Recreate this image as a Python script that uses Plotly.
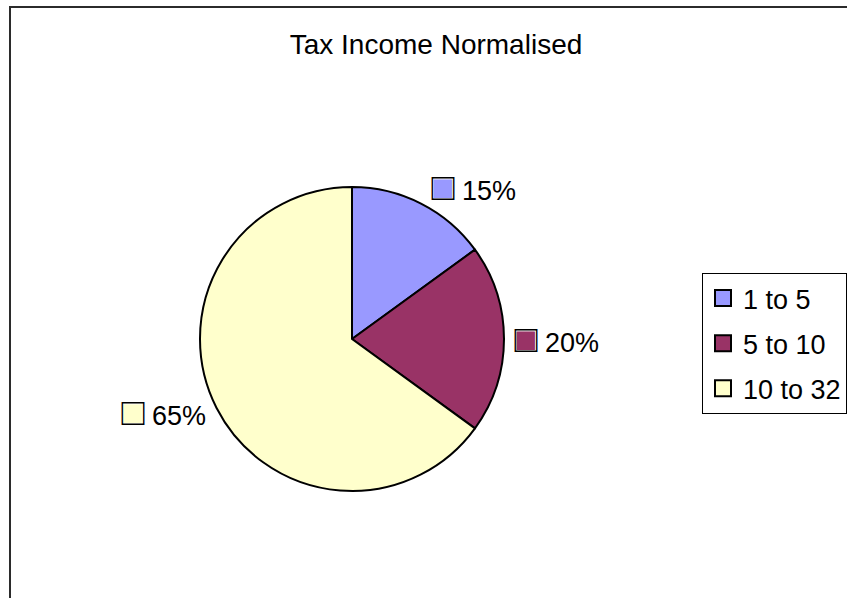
import plotly.graph_objects as go

# ---- data ----
categories = ["1 to 5", "5 to 10", "10 to 32"]
values = [15, 20, 65]
colors = ["#9999FF", "#993366", "#FFFFCC"]
title_text = "Tax Income Normalised"

W, H = 847, 598
FONT = "Liberation Sans, Arial, sans-serif"
FS = 27
SQ = 38

dom = dict(x=[200 / W, 504 / W], y=[1 - 491 / H, 1 - 187 / H])

fig = go.Figure()

# coloured slices with coloured square keys before the percentages
fill_text = [f"<span style='color:{c};font-size:{SQ}px'>\u25A0</span>" for c in colors]
fig.add_trace(go.Pie(
    labels=categories, values=values, sort=False, direction="clockwise", rotation=0,
    marker=dict(colors=colors, line=dict(color="black", width=2)),
    text=fill_text, texttemplate="%{text} %{percent:.0%}", textposition="outside",
    textfont=dict(family=FONT, size=FS, color="black"),
    domain=dom, showlegend=False, hoverinfo="label+percent",
))

# transparent overlay giving the square keys a black outline
outline_text = ["<span style='font-size:%dpx'>\u25A1</span>" % SQ for _ in colors]
fig.add_trace(go.Pie(
    labels=categories, values=values, sort=False, direction="clockwise", rotation=0,
    marker=dict(colors=["rgba(0,0,0,0)"] * len(values), line=dict(width=0)),
    text=outline_text,
    texttemplate="%{text}<span style='color:rgba(0,0,0,0)'> %{percent:.0%}</span>",
    textposition="outside",
    textfont=dict(family=FONT, size=FS, color="black"),
    domain=dom, showlegend=False, hoverinfo="skip",
))

# legend entries
for cat, col in zip(categories, colors):
    fig.add_trace(go.Scatter(
        x=[None], y=[None], mode="markers", name=cat, legendgroup=cat,
        marker=dict(symbol="square", size=16, color=col, line=dict(color="black", width=2)),
        showlegend=True, hoverinfo="skip",
    ))

fig.update_xaxes(visible=False)
fig.update_yaxes(visible=False)

fig.update_layout(
    width=W, height=H, autosize=False,
    margin=dict(l=0, r=0, t=0, b=0, pad=0, autoexpand=False),
    paper_bgcolor="white", plot_bgcolor="white",
    font=dict(family=FONT, size=FS, color="black"),
    title=dict(text=title_text, x=436 / W, xanchor="center", y=1 - 44 / H, yanchor="middle",
               font=dict(family=FONT, size=28, color="black")),
    legend=dict(x=702 / W, xanchor="left", y=1 - 273 / H, yanchor="top",
                bordercolor="black", borderwidth=1, bgcolor="white",
                font=dict(family=FONT, size=FS, color="black"),
                traceorder="grouped", tracegroupgap=7),
    shapes=[dict(type="rect", xref="paper", yref="paper",
                 x0=10 / W, x1=1.05, y0=-0.05, y1=1 - 7 / H,
                 line=dict(color="#2b2b2b", width=2), fillcolor="rgba(0,0,0,0)", layer="above")],
)

fig.write_html("out.html")
